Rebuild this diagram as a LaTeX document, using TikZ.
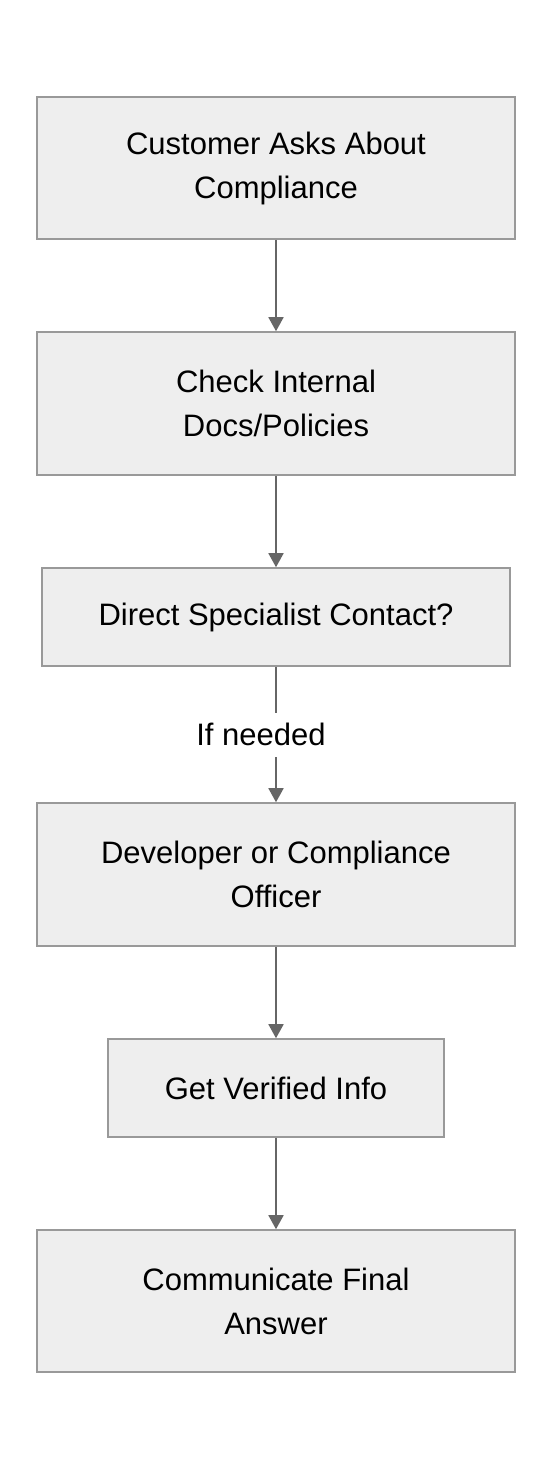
\documentclass[tikz,border=0pt]{standalone}
\usepackage{fontspec}
\setmainfont{Liberation Sans}
\usetikzlibrary{arrows.meta}
\definecolor{boxfill}{HTML}{EEEEEE}
\definecolor{boxline}{HTML}{999999}
\definecolor{arrowc}{HTML}{666666}
\begin{document}
\begin{tikzpicture}[x=1pt,y=-1pt,
  box/.style={rectangle, draw=boxline, fill=boxfill, line width=1.6pt, align=center, inner sep=0pt,
    font=\fontsize{31}{44}\selectfont},
  conn/.style={draw=arrowc, line width=1.8pt, -{Triangle[length=14pt,width=15pt]}},
  lbl/.style={fill=white, inner sep=0pt, minimum height=44pt, font=\fontsize{31}{44}\selectfont}]
\useasboundingbox (0,0) rectangle (552,1468);
\node[box, minimum width=478pt, minimum height=142pt] (n1) at (276,168) {Customer Asks About\\Compliance};
\node[box, minimum width=478pt, minimum height=143pt] (n2) at (276,403.5) {Check Internal\\Docs/Policies};
\node[box, minimum width=468pt, minimum height=98pt] (n3) at (276,617) {Direct Specialist Contact?};
\node[box, minimum width=478pt, minimum height=143pt] (n4) at (276,874.5) {Developer or Compliance\\Officer};
\node[box, minimum width=336pt, minimum height=98pt] (n5) at (276,1088) {Get Verified Info};
\node[box, minimum width=478pt, minimum height=142pt] (n6) at (276,1301) {Communicate Final\\Answer};
\draw[conn] (n1) -- (n2);
\draw[conn] (n2) -- (n3);
\draw[conn] (n3) -- node[lbl, xshift=-15pt] {If needed} (n4);
\draw[conn] (n4) -- (n5);
\draw[conn] (n5) -- (n6);
\end{tikzpicture}
\end{document}
